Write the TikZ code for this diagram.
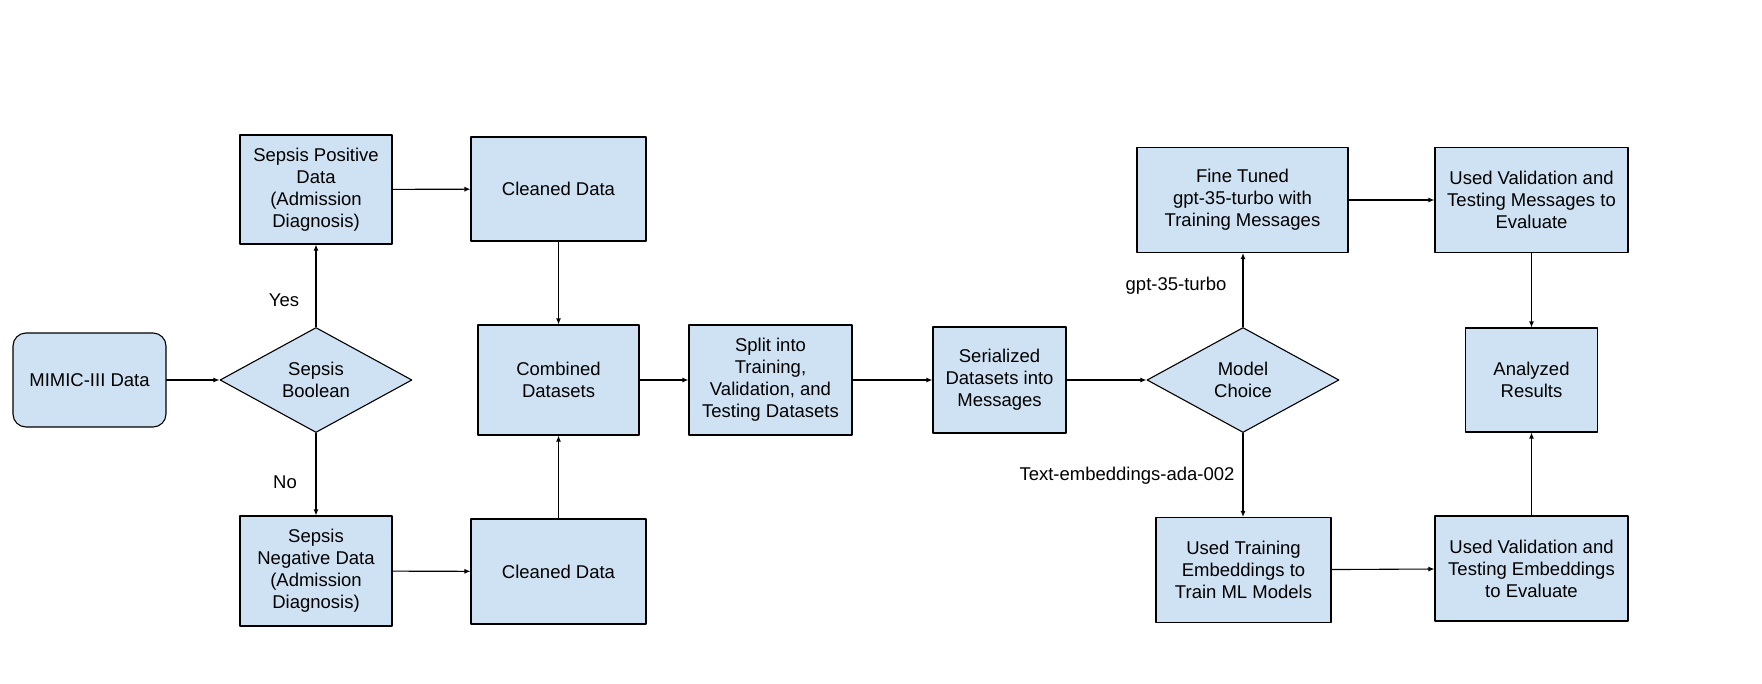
\documentclass[tikz,border=0pt]{standalone}
\usepackage{fontspec}
\setmainfont{Liberation Sans}
\usepackage{tikz}
\usetikzlibrary{shapes.geometric}
\usetikzlibrary{arrows.meta}
\definecolor{cfeff3}{HTML}{CFE2F3}
\tikzstyle{every node}=[font=\fontsize{18.5}{22}\selectfont]

\begin{document}
\begin{tikzpicture}[line cap=round,line join=round,>={Latex[length=6pt,width=5pt]},x=1pt,y=-1pt,
  box/.style={draw,line width=1.1pt,fill=cfeff3,align=center,inner sep=2pt},
  choice/.style={box,diamond,aspect=1.8,inner sep=0pt,minimum width=192pt,minimum height=105pt},
  flow/.style={->,line width=1.1pt}]
\useasboundingbox (0,0) rectangle (1762,683);
% boxes
\node[box,rounded corners=13pt,minimum width=153pt,minimum height=94pt] (mimic) at (89.5,380) {MIMIC-III Data};
\node[choice] (sepsis) at (316,380) {Sepsis\\Boolean};
\node[box,minimum width=152pt,minimum height=109pt] (pos) at (316,189.5) {Sepsis Positive\\Data\\(Admission\\Diagnosis)};
\node[box,minimum width=152pt,minimum height=110pt] (neg) at (316,571) {Sepsis\\Negative Data\\(Admission\\Diagnosis)};
\node[box,minimum width=175pt,minimum height=104pt] (cleanpos) at (558.5,189) {Cleaned Data};
\node[box,minimum width=175pt,minimum height=105pt] (cleanneg) at (558.5,571.5) {Cleaned Data};
\node[box,minimum width=161pt,minimum height=110pt] (comb) at (558.5,380) {Combined\\Datasets};
\node[box,minimum width=163pt,minimum height=110pt] (split) at (770.5,380) {Split into\\Training,\\Validation, and\\Testing Datasets};
\node[box,minimum width=133pt,minimum height=106pt] (serial) at (999.5,380) {Serialized\\Datasets into\\Messages};
\node[choice] (model) at (1243,380) {Model\\Choice};
\node[box,minimum width=211pt,minimum height=105pt] (fine) at (1242.5,200) {Fine Tuned\\gpt-35-turbo with\\Training Messages};
\node[box,minimum width=193pt,minimum height=105pt] (valmsg) at (1531.5,200) {Used Validation and\\Testing Messages to\\Evaluate};
\node[box,minimum width=132pt,minimum height=104pt] (result) at (1531.5,380) {Analyzed\\Results};
\node[box,minimum width=175pt,minimum height=105pt] (train) at (1243.5,570) {Used Training\\Embeddings to\\Train ML Models};
\node[box,minimum width=193pt,minimum height=105pt] (valemb) at (1531.5,568.5) {Used Validation and\\Testing Embeddings\\to Evaluate};
% labels
\node (yes) at (284,300) {Yes};
\node (no) at (285,482) {No};
\node[anchor=east] (gpt) at (1230,286) {gpt-35-turbo};
\node[anchor=east] (ada) at (1238,476) {Text-embeddings-ada-002};
% arrows
\draw[flow] (mimic) -- (sepsis);
\draw[flow] (sepsis.north) -- (pos.south);
\draw[flow] (sepsis.south) -- (neg.north);
\draw[flow] (pos) -- (cleanpos);
\draw[flow] (neg) -- (cleanneg);
\draw[flow] (cleanpos.south) -- (comb.north);
\draw[flow] (cleanneg.north) -- (comb.south);
\draw[flow] (comb) -- (split);
\draw[flow] (split) -- (serial);
\draw[flow] (serial) -- (model);
\draw[flow] (model.north) -- (fine.south -| model.north);
\draw[flow] (model.south) -- (train.north -| model.south);
\draw[flow] (fine) -- (valmsg);
\draw[flow] (train) -- (valemb);
\draw[flow] (valmsg.south) -- (result.north);
\draw[flow] (valemb.north) -- (result.south);
\end{tikzpicture}
\end{document}
